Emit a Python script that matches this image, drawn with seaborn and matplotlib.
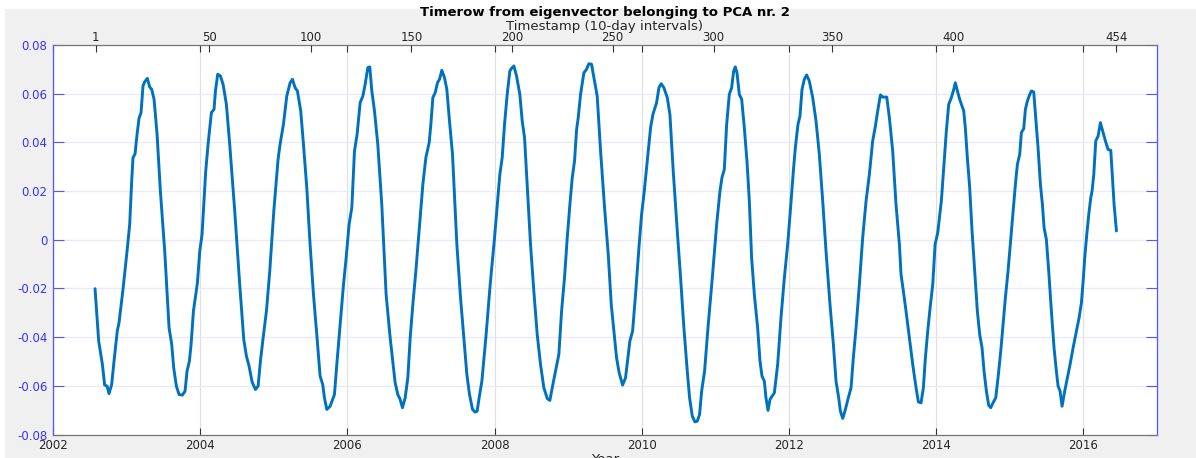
import matplotlib
matplotlib.use("Agg")
import matplotlib.pyplot as plt
import seaborn as sns
import pandas as pd
from matplotlib.patches import Rectangle
from matplotlib.ticker import FuncFormatter

# ---------------- data ----------------
years = [
    2002.571, 2002.621, 2002.671, 2002.702, 2002.734, 2002.761, 2002.797, 2002.829, 2002.874, 2002.897,
    2002.951, 2003.006, 2003.042, 2003.069, 2003.087, 2003.115, 2003.142, 2003.169, 2003.196, 2003.223,
    2003.246, 2003.282, 2003.314, 2003.341, 2003.373, 2003.414, 2003.459, 2003.518, 2003.577, 2003.613,
    2003.640, 2003.676, 2003.713, 2003.758, 2003.794, 2003.821, 2003.853, 2003.876, 2003.908, 2003.962,
    2003.994, 2004.025, 2004.048, 2004.075, 2004.107, 2004.152, 2004.188, 2004.207, 2004.238, 2004.275,
    2004.311, 2004.356, 2004.401, 2004.469, 2004.537, 2004.592, 2004.628, 2004.664, 2004.705, 2004.750,
    2004.787, 2004.818, 2004.855, 2004.900, 2004.945, 2005.000, 2005.058, 2005.085, 2005.131, 2005.176,
    2005.222, 2005.253, 2005.289, 2005.321, 2005.366, 2005.403, 2005.448, 2005.493, 2005.539, 2005.584,
    2005.629, 2005.665, 2005.688, 2005.720, 2005.765, 2005.824, 2005.856, 2005.901, 2005.947, 2005.983,
    2006.023, 2006.060, 2006.096, 2006.132, 2006.173, 2006.210, 2006.241, 2006.277, 2006.304, 2006.332,
    2006.368, 2006.413, 2006.467, 2006.526, 2006.581, 2006.626, 2006.649, 2006.685, 2006.717, 2006.748,
    2006.785, 2006.821, 2006.853, 2006.889, 2006.930, 2006.975, 2007.025, 2007.066, 2007.111, 2007.134,
    2007.161, 2007.193, 2007.224, 2007.251, 2007.283, 2007.319, 2007.351, 2007.387, 2007.428, 2007.487,
    2007.537, 2007.582, 2007.623, 2007.659, 2007.700, 2007.736, 2007.763, 2007.790, 2007.827, 2007.881,
    2007.940, 2007.999, 2008.071, 2008.103, 2008.135, 2008.171, 2008.207, 2008.230, 2008.262, 2008.298,
    2008.343, 2008.375, 2008.407, 2008.443, 2008.488, 2008.533, 2008.579, 2008.624, 2008.669, 2008.715,
    2008.751, 2008.783, 2008.828, 2008.873, 2008.910, 2008.950, 2008.987, 2009.023, 2009.055, 2009.086,
    2009.114, 2009.136, 2009.168, 2009.213, 2009.249, 2009.281, 2009.317, 2009.358, 2009.394, 2009.440,
    2009.494, 2009.544, 2009.585, 2009.621, 2009.657, 2009.693, 2009.739, 2009.779, 2009.811, 2009.838,
    2009.875, 2009.915, 2009.961, 2009.997, 2010.029, 2010.074, 2010.119, 2010.151, 2010.201, 2010.233,
    2010.264, 2010.300, 2010.346, 2010.382, 2010.427, 2010.482, 2010.527, 2010.572, 2010.618, 2010.649,
    2010.686, 2010.722, 2010.754, 2010.785, 2010.813, 2010.853, 2010.899, 2010.958, 2011.017, 2011.062,
    2011.089, 2011.121, 2011.153, 2011.189, 2011.221, 2011.248, 2011.270, 2011.293, 2011.325, 2011.357,
    2011.393, 2011.429, 2011.461, 2011.492, 2011.529, 2011.574, 2011.606, 2011.633, 2011.665, 2011.687,
    2011.715, 2011.742, 2011.769, 2011.801, 2011.846, 2011.891, 2011.937, 2011.982, 2012.018, 2012.059,
    2012.086, 2012.122, 2012.149, 2012.177, 2012.208, 2012.240, 2012.276, 2012.322, 2012.367, 2012.412,
    2012.458, 2012.503, 2012.557, 2012.603, 2012.639, 2012.675, 2012.698, 2012.730, 2012.766, 2012.806,
    2012.843, 2012.874, 2012.911, 2012.956, 2013.001, 2013.047, 2013.092, 2013.137, 2013.174, 2013.205,
    2013.242, 2013.273, 2013.328, 2013.364, 2013.409, 2013.454, 2013.500, 2013.522, 2013.554, 2013.590,
    2013.635, 2013.681, 2013.726, 2013.758, 2013.794, 2013.826, 2013.853, 2013.885, 2013.917, 2013.953,
    2013.985, 2014.021, 2014.070, 2014.106, 2014.138, 2014.170, 2014.206, 2014.233, 2014.260, 2014.288,
    2014.319, 2014.351, 2014.374, 2014.396, 2014.423, 2014.455, 2014.487, 2014.523, 2014.559, 2014.591,
    2014.623, 2014.650, 2014.682, 2014.713, 2014.741, 2014.772, 2014.809, 2014.840, 2014.877, 2014.908,
    2014.940, 2014.976, 2014.999, 2015.031, 2015.044, 2015.076, 2015.103, 2015.135, 2015.157, 2015.189,
    2015.212, 2015.239, 2015.271, 2015.293, 2015.325, 2015.352, 2015.384, 2015.416, 2015.443, 2015.466,
    2015.497, 2015.529, 2015.565, 2015.601, 2015.633, 2015.656, 2015.683, 2015.710, 2015.746, 2015.783,
    2015.819, 2015.860, 2015.905, 2015.941, 2015.973, 2016.000, 2016.018, 2016.046, 2016.073, 2016.100,
    2016.118, 2016.141, 2016.168, 2016.200, 2016.231, 2016.268, 2016.299, 2016.335, 2016.372, 2016.394,
    2016.417, 2016.449,
]

values = [
    -0.0201, -0.0417, -0.0512, -0.0597, -0.0601, -0.0632, -0.0595, -0.0499, -0.0373, -0.0341,
    -0.0204, -0.0047, 0.0063, 0.0241, 0.0337, 0.0353, 0.0433, 0.0499, 0.0522, 0.0632,
    0.0649, 0.0663, 0.0627, 0.0618, 0.0577, 0.0433, 0.0200, -0.0047, -0.0362, -0.0430,
    -0.0526, -0.0601, -0.0636, -0.0638, -0.0622, -0.0540, -0.0499, -0.0430, -0.0293, -0.0177,
    -0.0047, 0.0022, 0.0145, 0.0282, 0.0392, 0.0522, 0.0536, 0.0611, 0.0680, 0.0673,
    0.0638, 0.0556, 0.0392, 0.0118, -0.0184, -0.0410, -0.0478, -0.0519, -0.0584, -0.0615,
    -0.0601, -0.0499, -0.0403, -0.0293, -0.0129, 0.0118, 0.0330, 0.0392, 0.0474, 0.0590,
    0.0645, 0.0659, 0.0625, 0.0611, 0.0529, 0.0392, 0.0214, -0.0019, -0.0225, -0.0389,
    -0.0560, -0.0595, -0.0649, -0.0697, -0.0684, -0.0636, -0.0512, -0.0348, -0.0184, -0.0074,
    0.0063, 0.0132, 0.0364, 0.0433, 0.0563, 0.0590, 0.0638, 0.0707, 0.0710, 0.0611,
    0.0529, 0.0392, 0.0145, -0.0225, -0.0403, -0.0526, -0.0588, -0.0636, -0.0656, -0.0690,
    -0.0649, -0.0567, -0.0403, -0.0266, -0.0129, 0.0042, 0.0227, 0.0337, 0.0399, 0.0474,
    0.0584, 0.0604, 0.0645, 0.0659, 0.0696, 0.0666, 0.0618, 0.0488, 0.0351, -0.0019,
    -0.0238, -0.0403, -0.0553, -0.0636, -0.0697, -0.0708, -0.0704, -0.0649, -0.0581, -0.0403,
    -0.0184, 0.0008, 0.0268, 0.0337, 0.0474, 0.0597, 0.0693, 0.0704, 0.0714, 0.0673,
    0.0597, 0.0488, 0.0419, 0.0227, -0.0019, -0.0211, -0.0389, -0.0512, -0.0608, -0.0652,
    -0.0660, -0.0608, -0.0540, -0.0471, -0.0293, -0.0156, 0.0008, 0.0145, 0.0255, 0.0323,
    0.0453, 0.0501, 0.0597, 0.0686, 0.0700, 0.0723, 0.0721, 0.0652, 0.0590, 0.0364,
    0.0132, -0.0060, -0.0266, -0.0375, -0.0485, -0.0547, -0.0597, -0.0567, -0.0485, -0.0416,
    -0.0375, -0.0225, -0.0033, 0.0104, 0.0186, 0.0323, 0.0460, 0.0515, 0.0563, 0.0625,
    0.0641, 0.0625, 0.0584, 0.0515, 0.0282, 0.0036, -0.0156, -0.0362, -0.0540, -0.0649,
    -0.0725, -0.0748, -0.0745, -0.0718, -0.0622, -0.0540, -0.0362, -0.0156, 0.0063, 0.0200,
    0.0255, 0.0289, 0.0474, 0.0597, 0.0625, 0.0693, 0.0710, 0.0686, 0.0597, 0.0577,
    0.0460, 0.0323, 0.0159, -0.0074, -0.0225, -0.0362, -0.0499, -0.0560, -0.0581, -0.0649,
    -0.0701, -0.0656, -0.0643, -0.0629, -0.0512, -0.0321, -0.0156, -0.0019, 0.0118, 0.0282,
    0.0378, 0.0474, 0.0508, 0.0618, 0.0659, 0.0677, 0.0652, 0.0584, 0.0488, 0.0351,
    0.0159, -0.0047, -0.0266, -0.0430, -0.0581, -0.0649, -0.0704, -0.0734, -0.0697, -0.0649,
    -0.0608, -0.0485, -0.0362, -0.0184, 0.0008, 0.0159, 0.0269, 0.0406, 0.0467, 0.0529,
    0.0595, 0.0586, 0.0586, 0.0501, 0.0364, 0.0145, -0.0019, -0.0142, -0.0211, -0.0293,
    -0.0403, -0.0512, -0.0608, -0.0666, -0.0670, -0.0608, -0.0485, -0.0375, -0.0279, -0.0184,
    -0.0019, 0.0029, 0.0159, 0.0310, 0.0447, 0.0556, 0.0584, 0.0611, 0.0645, 0.0611,
    0.0577, 0.0549, 0.0529, 0.0460, 0.0337, 0.0214, 0.0036, -0.0129, -0.0293, -0.0389,
    -0.0444, -0.0540, -0.0622, -0.0680, -0.0690, -0.0670, -0.0649, -0.0567, -0.0458, -0.0348,
    -0.0238, -0.0129, -0.0047, 0.0063, 0.0111, 0.0227, 0.0310, 0.0351, 0.0440, 0.0456,
    0.0536, 0.0570, 0.0597, 0.0611, 0.0607, 0.0501, 0.0378, 0.0227, 0.0145, 0.0049,
    0.0001, -0.0129, -0.0293, -0.0444, -0.0540, -0.0601, -0.0622, -0.0684, -0.0622, -0.0567,
    -0.0512, -0.0444, -0.0375, -0.0321, -0.0259, -0.0156, -0.0074, 0.0022, 0.0104, 0.0173,
    0.0200, 0.0268, 0.0406, 0.0426, 0.0481, 0.0440, 0.0406, 0.0371, 0.0367, 0.0255,
    0.0145, 0.0036,
]

year_ticks = [2002, 2004, 2006, 2008, 2010, 2012, 2014, 2016]
value_ticks = [-0.08, -0.06, -0.04, -0.02, 0.0, 0.02, 0.04, 0.06, 0.08]
timestamp_labels = ["1", "50", "100", "150", "200", "250", "300", "350", "400", "454"]
timestamp_years = [2002.580, 2004.125, 2005.503, 2006.870, 2008.243, 2009.603,
                   2010.975, 2012.589, 2014.234, 2016.449]

title_text = "Timerow from eigenvector belonging to PCA nr. 2"
top_label = "Timestamp (10-day intervals)"
bottom_label = "Year"

# ---------------- style ----------------
sns.set_style("white")
plt.rcParams["font.family"] = ["DejaVu Sans"]
plt.rcParams["axes.unicode_minus"] = False

W, H = 1196, 458
fig = plt.figure(figsize=(W / 100, H / 100), dpi=100, facecolor="white")
fig.patches.append(Rectangle((5 / W, 0), 1, 1 - 9 / H, transform=fig.transFigure,
                             facecolor="#f0f0f0", edgecolor="none", zorder=-10))

left, right, top, bottom = 53, 1157, 45, 434.5
ax = fig.add_axes([left / W, 1 - bottom / H, (right - left) / W, (bottom - top) / H])
ax.set_facecolor("white")

df = pd.DataFrame({"Year": years, "Value": values})
sns.lineplot(data=df, x="Year", y="Value", ax=ax, color="#0072BD",
             linewidth=2.1, estimator=None, sort=False)

ax.set_xlim(2002, 2017)
ax.set_ylim(-0.08, 0.08)
ax.set_xticks(year_ticks)
ax.set_yticks(value_ticks)
ax.yaxis.set_major_formatter(FuncFormatter(lambda v, p: "0" if abs(v) < 1e-12 else f"{v:g}"))

ax.set_axisbelow(True)
ax.xaxis.grid(True, color="#e0e0e0", linewidth=0.9)
ax.yaxis.grid(True, color="#e8e8ff", linewidth=0.9)

# top axis with timestamp indices
ax2 = ax.twiny()
ax2.set_xlim(2002, 2017)
ax2.set_xticks(timestamp_years)
ax2.set_xticklabels(timestamp_labels)
ax2.tick_params(axis="x", direction="in", length=5, width=0.8, color="#333333",
                labelcolor="#262626", labelsize=8.5, pad=1)
ax2.set_xlabel(top_label, fontsize=9.5, color="#262626", labelpad=0.8)
for s in ax2.spines.values():
    s.set_visible(False)

ax.tick_params(axis="x", direction="in", length=5, width=0.8, color="#333333",
               labelcolor="#262626", labelsize=8.5, top=True, bottom=True,
               labeltop=False, labelbottom=True, pad=3.5)
ax.tick_params(axis="y", direction="in", length=8, width=0.8, color="#5555ff",
               labelcolor="#3333ff", labelsize=8.5, left=True, right=True,
               labelleft=True, labelright=False, pad=4)
ax.set_xlabel(bottom_label, fontsize=9.5, color="#262626", labelpad=0.5)
ax.set_ylabel("")

for side in ("left", "right"):
    ax.spines[side].set_color("#5555ff")
    ax.spines[side].set_linewidth(0.9)
for side in ("top", "bottom"):
    ax.spines[side].set_color("#777777")
    ax.spines[side].set_linewidth(0.9)

fig.text((left + right) / 2 / W, 1 - 12.5 / H, title_text, ha="center", va="center",
         fontsize=9.5, fontweight="bold", color="#000000")

fig.savefig("out.png", dpi=100, facecolor=fig.get_facecolor())
